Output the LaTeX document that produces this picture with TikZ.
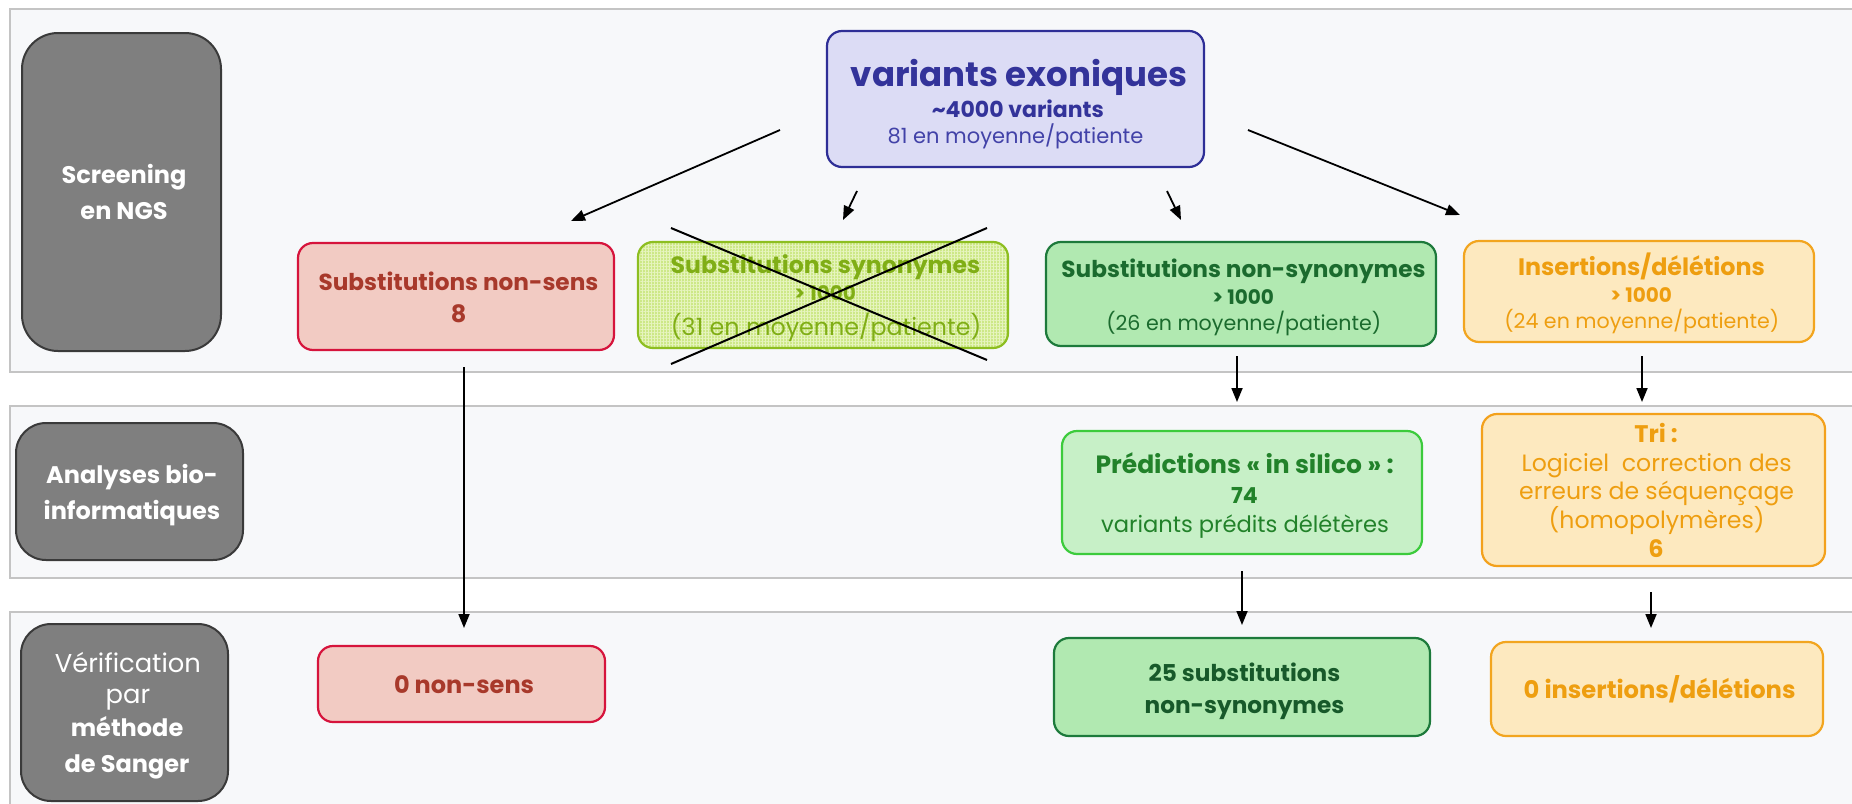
\documentclass[tikz,border=0pt]{standalone}
\usepackage{fontspec}
\setmainfont{Poppins}
\usetikzlibrary{arrows.meta,patterns.meta}
\definecolor{bandfill}{HTML}{F7F8FA}
\definecolor{banddraw}{HTML}{C4C4C4}
\definecolor{grayfill}{HTML}{7F7F7F}
\definecolor{graydraw}{HTML}{3A3A3A}
\definecolor{varfill}{HTML}{DCDCF5}
\definecolor{vardraw}{HTML}{2E2E96}
\definecolor{vartext}{HTML}{33339A}
\definecolor{vartextb}{HTML}{4242A8}
\definecolor{nsfill}{HTML}{F2CBC3}
\definecolor{nsdraw}{HTML}{D6143C}
\definecolor{nstext}{HTML}{A8392B}
\definecolor{synfill}{HTML}{CDE887}
\definecolor{synpat}{HTML}{E6F4BE}
\definecolor{syndraw}{HTML}{8DBE20}
\definecolor{syntext}{HTML}{80AE16}
\definecolor{nsyfill}{HTML}{B1E9B1}
\definecolor{nsydraw}{HTML}{1D7A3B}
\definecolor{nsytext}{HTML}{1B6B2E}
\definecolor{tfstext}{HTML}{17592A}
\definecolor{insfill}{HTML}{FDE9BF}
\definecolor{insdraw}{HTML}{F2A51F}
\definecolor{instext}{HTML}{EE9E10}
\definecolor{prefill}{HTML}{C7F0C7}
\definecolor{predraw}{HTML}{3CCB3C}
\definecolor{pretext}{HTML}{22822A}
% text layout helpers: box of given width/height, lines at given baseline gaps
\newcommand\bxt[3]{\begin{minipage}[c][#2][t]{#1}\centering\baselineskip=0pt\lineskip=0pt\lineskiplimit=0pt\parskip=0pt\relax #3\end{minipage}}
\newcommand\Lin[2]{\vspace*{#1}\smash{#2}\par}
\newcommand\fB[1]{\fontsize{#1}{#1}\selectfont\bfseries}
\newcommand\fR[1]{\fontsize{#1}{#1}\selectfont}
\begin{document}
\begin{tikzpicture}[x=0.5pt,y=-0.5pt,
  band/.style={fill=bandfill,draw=banddraw,line width=1.2pt},
  graybox/.style={fill=grayfill,draw=graydraw,line width=1pt,rounded corners=15pt,text=white,inner sep=0pt},
  cbox/.style={line width=1.1pt,rounded corners=7.5pt,inner sep=0pt},
  arr/.style={line width=0.9pt,-{Triangle[length=7pt,width=5.5pt]}},
  cross/.style={line width=1pt}]
\useasboundingbox (0,0) rectangle (1852,803);
\fill[white] (0,0) rectangle (1852,803);
% bands
\draw[band] (10,9) rectangle (1880,372);
\draw[band] (10,406) rectangle (1880,578);
\draw[band] (10,612) rectangle (1880,830);
% left labels
\node[graybox,rounded corners=18pt] (screen) at (121.5,192)
  {\bxt{99.5pt}{159pt}{\Lin{75pt}{\fB{12} Screening}\Lin{18pt}{\fB{12} en NGS}}};
\node[graybox] (bio) at (129.5,491.5)
  {\bxt{113.5pt}{68.5pt}{\Lin{30pt}{\fB{12} Analyses bio-}\Lin{18pt}{\fB{12} informatiques}}};
\node[graybox] (sanger) at (124.5,712.5)
  {\bxt{103.5pt}{88.5pt}{\Lin{24pt}{\fR{12.9} Vérification}\Lin{15.5pt}{\fR{12.9} par}\Lin{16.5pt}{\fB{12} méthode}\Lin{18pt}{\fB{12} de Sanger}}};
% top node
\node[cbox,fill=varfill,draw=vardraw,text=vartext] (var) at (1015.5,99)
  {\bxt{188.5pt}{68pt}{\Lin{27.5pt}{\fB{17} variants exoniques}\Lin{15.5pt}{\fB{11} \textasciitilde4000 variants}\Lin{13pt}{\fR{10.5}\color{vartextb} 81 en moyenne/patiente}}};
% row 1
\node[cbox,fill=nsfill,draw=nsdraw,text=nstext] (nonsens) at (456,296.5)
  {\bxt{158pt}{53.5pt}{\Lin{23.5pt}{\fB{11.6} Substitutions non-sens}\Lin{16pt}{\fB{12} 8}}};
\node[cbox,preaction={fill=synfill},pattern={Hatch[angle=0,distance=1.5pt,line width=0.35pt]},pattern color=synpat,
  draw=syndraw,text=syntext] (syn) at (823,295)
  {\bxt{185pt}{53pt}{\Lin{15.5pt}{\fB{11.8} Substitutions synonymes}\Lin{13.5pt}{\fB{10} > 1000}\Lin{17.5pt}{\fR{11.9} (31 en moyenne/patiente)}}};
\node[cbox,fill=nsyfill,draw=nsydraw,text=nsytext] (nonsyn) at (1241,294)
  {\bxt{195pt}{52pt}{\Lin{17.5pt}{\fB{11.6} Substitutions non-synonymes}\Lin{13.5pt}{\fB{10} > 1000}\Lin{13pt}{\fR{10.3} (26 en moyenne/patiente)}}};
\node[cbox,fill=insfill,draw=insdraw,text=instext] (indel) at (1639,291.5)
  {\bxt{175pt}{50.5pt}{\Lin{17pt}{\fB{11.9} Insertions/délétions}\Lin{13.5pt}{\fB{10} > 1000}\Lin{13pt}{\fR{10.3} (24 en moyenne/patiente)}}};
% cross over synonymes
\coordinate (x1) at (671,228);
\coordinate (x2) at (987,360);
\coordinate (x3) at (671,364);
\coordinate (x4) at (987,228);
\draw[cross] (x1) -- (x2);
\draw[cross] (x3) -- (x4);
% row 2
\node[cbox,fill=prefill,draw=predraw,text=pretext] (pred) at (1242,492.5)
  {\bxt{180pt}{61.5pt}{\Lin{21pt}{\fB{12.5} Prédictions « in silico » :}\Lin{15pt}{\fB{11} 74}\Lin{14.5pt}{\fR{11.3} variants prédits délétères}}};
\node[cbox,fill=insfill,draw=insdraw!90!orange,text=instext] (tri) at (1653.5,490)
  {\bxt{171.5pt}{76pt}{\Lin{14pt}{\fB{12} Tri :}\Lin{14.5pt}{\fR{11.8} Logiciel~ correction des}\Lin{14pt}{\fR{11.8} erreurs de séquençage}\Lin{14.5pt}{\fR{11.8} (homopolymères)}\Lin{14.5pt}{\fB{12} 6}}};
% row 3
\node[cbox,fill=nsfill,draw=nsdraw,text=nstext] (zns) at (461.5,684)
  {\bxt{143.5pt}{38pt}{\Lin{23.5pt}{\fB{12} 0 non-sens}}};
\node[cbox,fill=nsyfill,draw=nsydraw,text=tfstext] (tfs) at (1242,687)
  {\bxt{188pt}{49pt}{\Lin{21.5pt}{\fB{11.6} 25 substitutions}\Lin{16pt}{\fB{11.6} non-synonymes}}};
\node[cbox,fill=insfill,draw=insdraw,text=instext] (zid) at (1657,689)
  {\bxt{166pt}{47pt}{\Lin{28pt}{\fB{12.1} 0 insertions/délétions}}};
% arrows
\coordinate (a1s) at (780,130); \coordinate (a1e) at (571,221);
\coordinate (a2s) at (857,191); \coordinate (a2e) at (843,220);
\coordinate (a3s) at (1167,191); \coordinate (a3e) at (1181,220);
\coordinate (a4s) at (1248,130); \coordinate (a4e) at (1460,215);
\draw[arr] (a1s) -- (a1e);
\draw[arr] (a2s) -- (a2e);
\draw[arr] (a3s) -- (a3e);
\draw[arr] (a4s) -- (a4e);
\coordinate (v1s) at (464,367); \coordinate (v1e) at (464,628);
\coordinate (v2s) at (1237,356); \coordinate (v2e) at (1237,402);
\coordinate (v3s) at (1642,356); \coordinate (v3e) at (1642,402);
\coordinate (v4s) at (1242,571); \coordinate (v4e) at (1242,625);
\coordinate (v5s) at (1651,592); \coordinate (v5e) at (1651,628);
\draw[arr] (v1s) -- (v1e);
\draw[arr] (v2s) -- (v2e);
\draw[arr] (v3s) -- (v3e);
\draw[arr] (v4s) -- (v4e);
\draw[arr] (v5s) -- (v5e);
\end{tikzpicture}
\end{document}
